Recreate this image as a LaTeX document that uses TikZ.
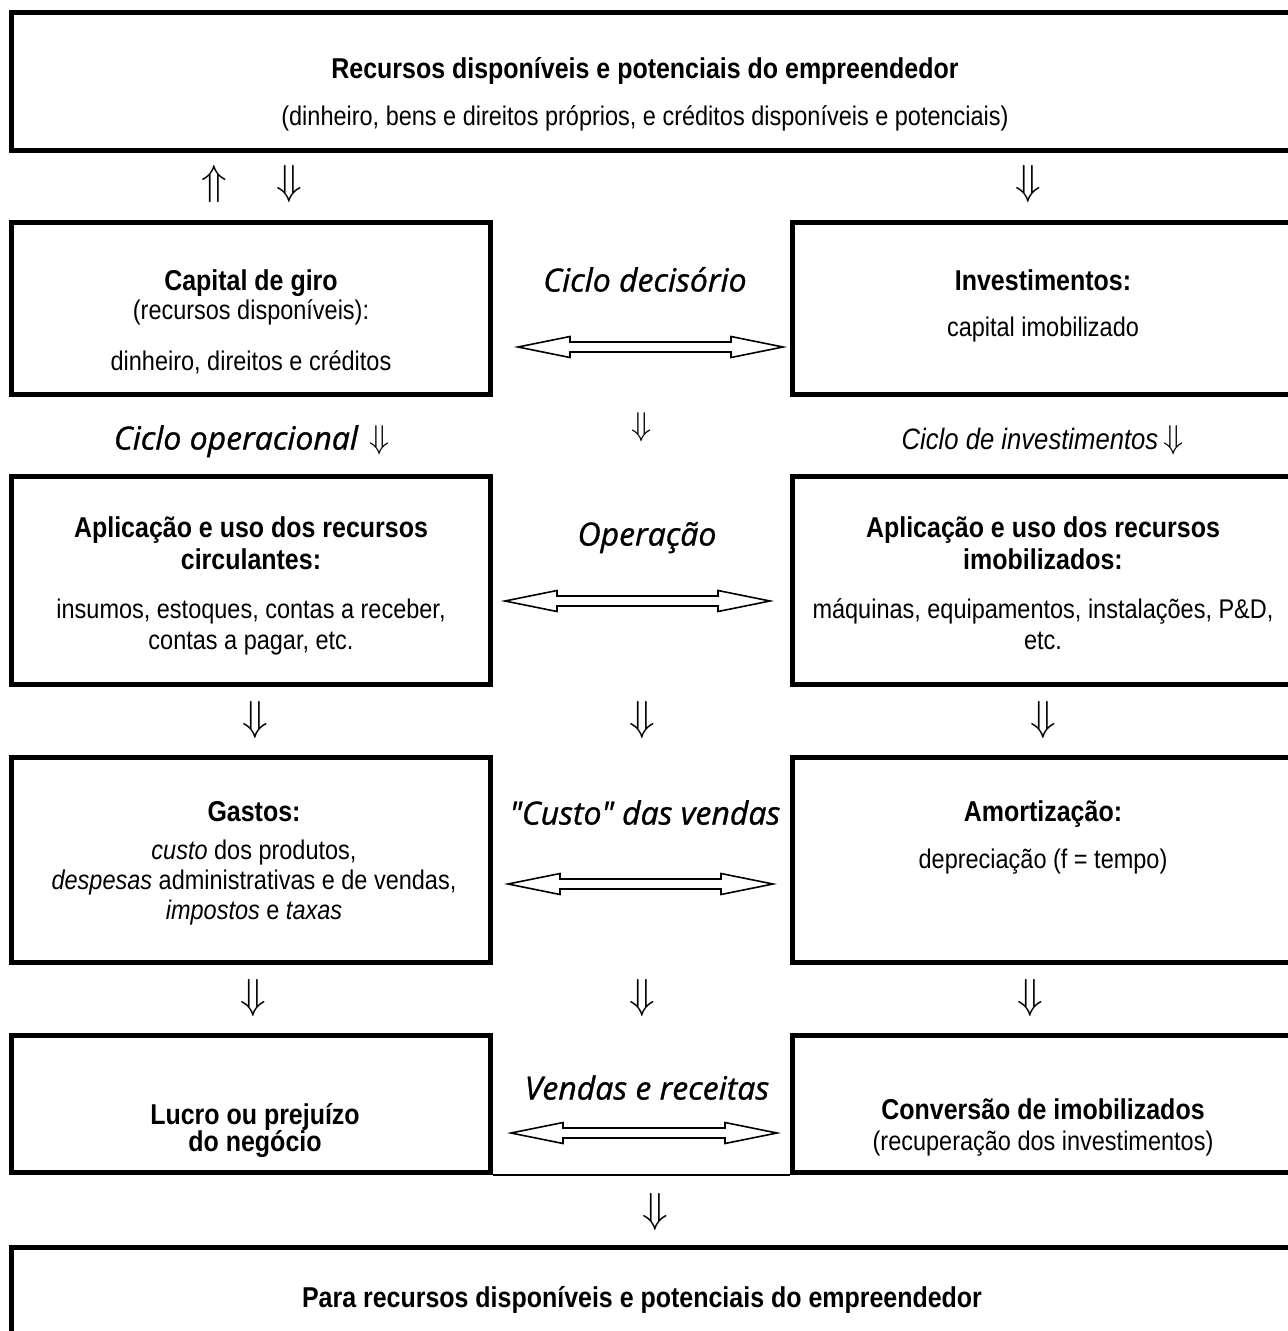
\RequirePackage{fix-cm}
\documentclass[tikz,border=0pt]{standalone}
\usepackage{fontspec}
\setmainfont{Liberation Sans}[FakeStretch=0.87]
\newfontfamily\comicfont{Open Sans}[FakeBold=1]
\newcommand\hdarrow[4]{%
  \coordinate (#1L) at (#2,#4);
  \coordinate (#1R) at (#3,#4);
  \draw[harrow] (#1L) -- ++(52,-10.5) -- ++(0,5.5) -- ++({#3-#2-104},0) -- ++(0,-5.5)
    -- (#1R) -- ++(-52,10.5) -- ++(0,-5.5) -- ++({#2-#3+104},0) -- ++(0,5.5) -- cycle;}
\tikzset{
  box/.style={draw, line width=5pt, inner sep=0pt},
  txtbase/.style={inner sep=0pt, text height=0.72em, text depth=0.21em, yshift=-6pt},
  txt/.style={txtbase, font=\fontsize{27}{30}\selectfont},
  bld/.style={txtbase, font=\fontsize{28.7}{30}\selectfont\bfseries},
  itx/.style={txtbase, font=\fontsize{29.5}{30}\selectfont\itshape},
  lbl/.style={txtbase, font=\fontsize{32}{36}\selectfont\comicfont\itshape},
  dn/.style={font=\fontsize{42}{42}\selectfont, inner sep=0pt},
  dnsm/.style={font=\fontsize{33}{33}\selectfont, inner sep=0pt},
  harrow/.style={draw, line width=1.6pt, fill=white, line join=miter},
  thin/.style={line width=1.5pt},
}
\begin{document}
\begin{tikzpicture}[x=1pt,y=-1pt]
\useasboundingbox (0,0) rectangle (1288,1331);
\clip (0,0) rectangle (1288,1331);
\fill[white] (0,0) rectangle (1288,1331);

% boxes
\node[box, minimum width=1288.5pt, minimum height=137.5pt] (btop) at (655.75,81.25) {};
\node[box, minimum width=479pt, minimum height=172pt] (b2l) at (251,308.5) {};
\node[box, minimum width=507.5pt, minimum height=172pt] (b2r) at (1046.25,308.5) {};
\node[box, minimum width=479pt, minimum height=208.5pt] (b3l) at (251,580.25) {};
\node[box, minimum width=507.5pt, minimum height=208.5pt] (b3r) at (1046.25,580.25) {};
\node[box, minimum width=479pt, minimum height=205pt] (b4l) at (251,860) {};
\node[box, minimum width=507.5pt, minimum height=205pt] (b4r) at (1046.25,860) {};
\node[box, minimum width=479pt, minimum height=137pt] (b5l) at (251,1104) {};
\node[box, minimum width=507.5pt, minimum height=137pt] (b5r) at (1046.25,1104) {};
\node[box, minimum width=1288.5pt, minimum height=97.5pt] (bbot) at (655.75,1296.25) {};
\draw[thin] (b5l.south east) -- (b5r.south west);

% top box text
\node[bld] (t1) at (645,70) {Recursos disponíveis e potenciais do empreendedor};
\node[txt] (t2) at (645,117) {(dinheiro, bens e direitos próprios, e créditos disponíveis e potenciais)};

% arrows between top and row 2
\node[dn] (up1) at (214,184) {$\Uparrow$};
\node[dn] (dn1) at (289,184) {$\Downarrow$};
\node[dn] (dn2) at (1028,184) {$\Downarrow$};

% row 2
\node[bld] (c1) at (251,282) {Capital de giro};
\node[txt] (c2) at (251,311) {(recursos disponíveis):};
\node[txt] (c3) at (251,362) {dinheiro, direitos e créditos};
\node[bld] (i1) at (1043,282) {Investimentos:};
\node[txt] (i2) at (1043,328) {capital imobilizado};
\node[lbl] (l1) at (645,283) {Ciclo decisório};
\hdarrow{a2}{518}{783}{347}

% gap row 2-3
\node[lbl] (l2) at (236,441) {Ciclo operacional};
\node[dnsm] (dn3) at (380,440) {$\Downarrow$};
\node[dnsm] (dn4) at (642,427) {$\Downarrow$};
\node[itx] (l3) at (1030,441) {Ciclo de investimentos};
\node[dnsm] (dn5) at (1174,440) {$\Downarrow$};

% row 3
\node[bld] (p1) at (251,529) {Aplicação e uso dos recursos};
\node[bld] (p2) at (251,561) {circulantes:};
\node[txt] (p3) at (251,610) {insumos, estoques, contas a receber,};
\node[txt] (p4) at (251,641) {contas a pagar, etc.};
\node[bld] (q1) at (1043,529) {Aplicação e uso dos recursos};
\node[bld] (q2) at (1043,561) {imobilizados:};
\node[txt] (q3) at (1043,610) {máquinas, equipamentos, instalações, P\&D,};
\node[txt] (q4) at (1043,641) {etc.};
\node[lbl] (l4) at (647,537) {Operação};
\hdarrow{a3}{505}{770}{601}

% gap row 3-4
\node[dn] (dn6) at (255,720) {$\Downarrow$};
\node[dn] (dn7) at (642,720) {$\Downarrow$};
\node[dn] (dn8) at (1043,720) {$\Downarrow$};

% row 4
\node[bld] (g1) at (254,813) {Gastos:};
\node[txt] (g2) at (254,851) {\textit{custo} dos produtos,};
\node[txt] (g3) at (254,881) {\textit{despesas} administrativas e de vendas,};
\node[txt] (g4) at (254,911) {\textit{impostos} e \textit{taxas}};
\node[bld] (m1) at (1043,813) {Amortização:};
\node[txt] (m2) at (1043,860) {depreciação (f = tempo)};
\node[lbl] (l5) at (645,816) {"Custo" das vendas};
\hdarrow{a4}{508}{773}{884}

% gap row 4-5
\node[dn] (dn9) at (253,998) {$\Downarrow$};
\node[dn] (dn10) at (642,998) {$\Downarrow$};
\node[dn] (dn11) at (1030,998) {$\Downarrow$};

% row 5
\node[bld] (r1) at (255,1116) {Lucro ou prejuízo};
\node[bld] (r2) at (255,1143) {do negócio};
\node[bld] (s1) at (1043,1111) {Conversão de imobilizados};
\node[txt] (s2) at (1043,1142) {(recuperação dos investimentos)};
\node[lbl] (l6) at (647,1091) {Vendas e receitas};
\hdarrow{a5}{511}{777}{1133}

% bottom
\node[dn] (dn12) at (655,1212) {$\Downarrow$};
\node[bld] (z1) at (642,1299) {Para recursos disponíveis e potenciais do empreendedor};
\end{tikzpicture}
\end{document}
